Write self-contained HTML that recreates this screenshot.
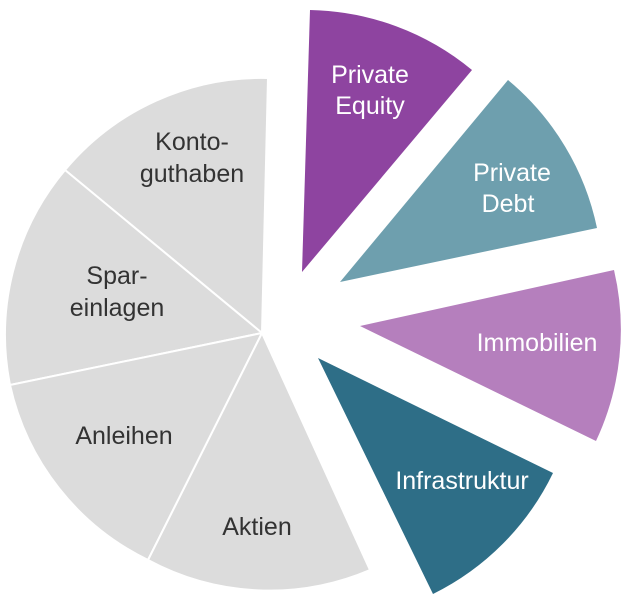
<!DOCTYPE html>
<html><head><style>html,body{margin:0;padding:0;background:#fff}svg{display:block}</style></head><body>
<svg width="628" height="606" viewBox="0 0 628 606" xmlns="http://www.w3.org/2000/svg">
<g fill="#dcdcdc" stroke="#fff" stroke-width="2">
<path d="M262 333 L268 78 A256 256 0 0 0 65 170 Z"/>
<path d="M262 333 L65 170 A256 256 0 0 0 10 385 Z"/>
<path d="M262 333 L10 385 A256 256 0 0 0 148 560 Z"/>
<path d="M262 333 L148 560 A256 256 0 0 0 370 570 Z"/>
</g>
<path d="M302 272 L310 10 A262 262 0 0 1 472 70 Z" fill="#8e44a0"/>
<path d="M340 282 L508 80 A262 262 0 0 1 597 228 Z" fill="#6e9fae"/>
<path d="M360 326 L614 270 A262 262 0 0 1 596 441 Z" fill="#b57fbd"/>
<path d="M318 358 L553 473 A262 262 0 0 1 433 594 Z" fill="#2e6e87"/>
<g font-family="Liberation Sans, sans-serif" font-size="25" text-anchor="middle" fill="#333">
<text x="192" y="150">Konto-</text><text x="192" y="182">guthaben</text>
<text x="117" y="284">Spar-</text><text x="117" y="316">einlagen</text>
<text x="124" y="444">Anleihen</text>
<text x="257" y="535">Aktien</text>
</g>
<g font-family="Liberation Sans, sans-serif" font-size="25" text-anchor="middle" fill="#fff">
<text x="370" y="83">Private</text><text x="370" y="114">Equity</text>
<text x="512" y="181">Private</text><text x="508" y="212">Debt</text>
<text x="537" y="351">Immobilien</text>
<text x="462" y="489">Infrastruktur</text>
</g>
</svg>
</body></html>
